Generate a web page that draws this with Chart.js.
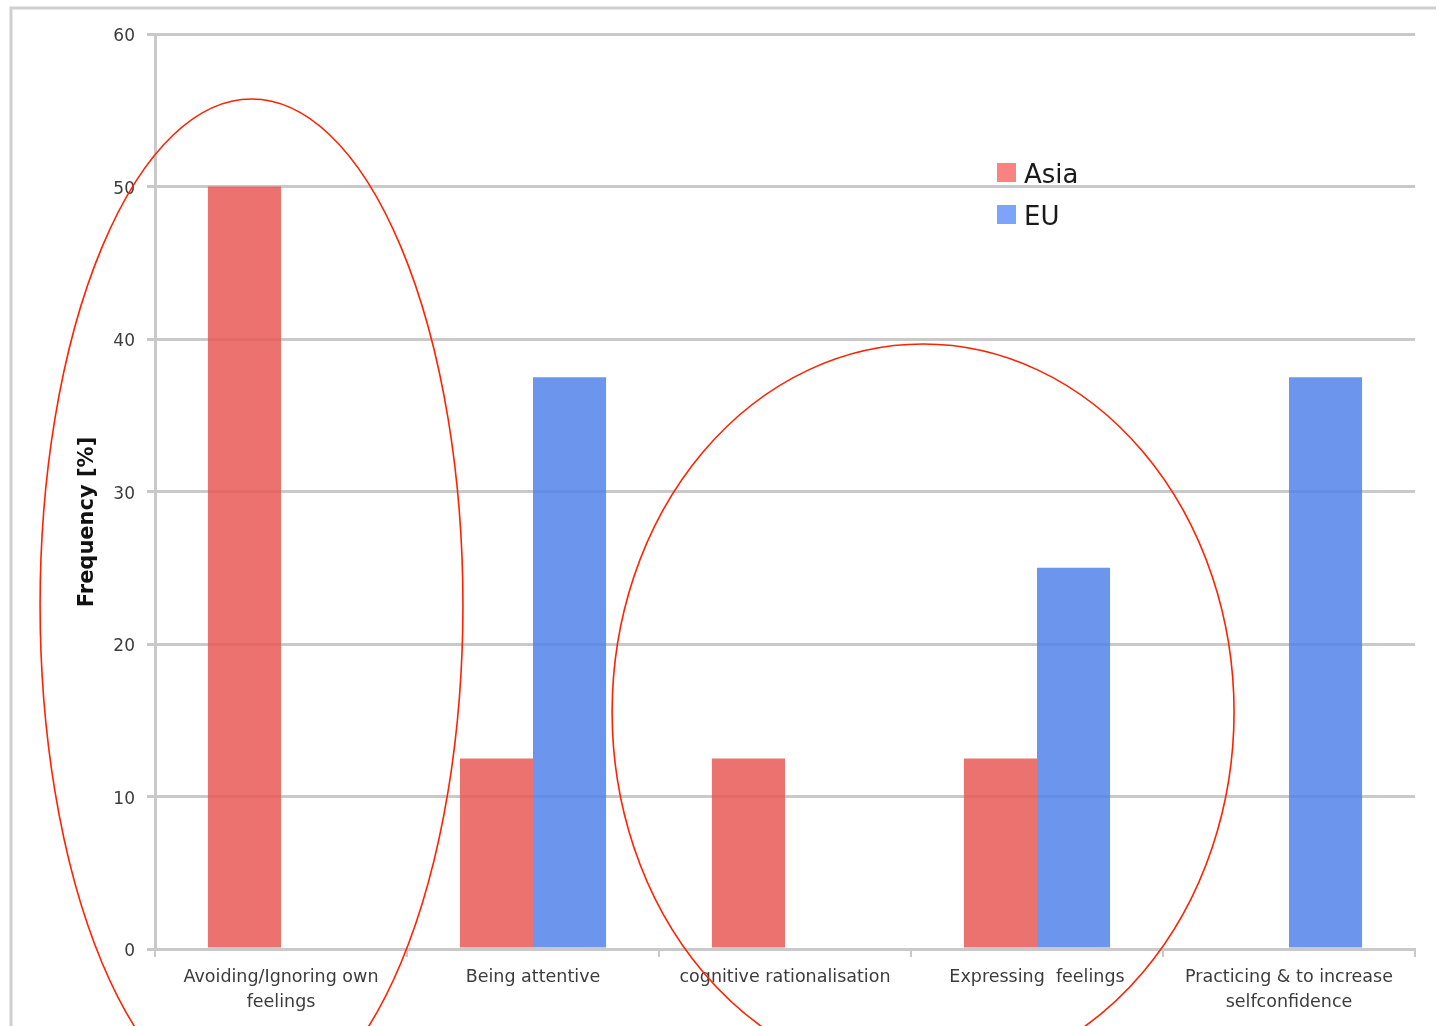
<!DOCTYPE html>
<html>
<head>
<meta charset="utf-8">
<script src="https://cdn.jsdelivr.net/npm/chart.js@4/dist/chart.umd.min.js"></script>
<style>
  html, body { margin: 0; padding: 0; background: #fff; }
  #wrap { width: 1438px; height: 1026px; position: relative; }
</style>
</head>
<body>
<div id="wrap"><canvas id="c" width="1438" height="1026"></canvas></div>
<script>
// Coping strategies by region, share of responses in percent
const categories = [
  ["Avoiding/Ignoring own", "feelings"],
  "Being attentive",
  "cognitive rationalisation",
  "Expressing  feelings",
  ["Practicing & to increase", "selfconfidence"]
];
const asiaValues = [50, 12.5, 12.5, 12.5, 0];
const euValues = [0, 37.5, 0, 25, 37.5];
const yTicks = [0, 10, 20, 30, 40, 50, 60];

// Highlight rings, in axis units: centre (category index, value), radii (categories, value)
const rings = [
  { cx: -0.117, cy: 22.56, rx: 0.839, ry: 33.18 },
  { cx: 2.548, cy: 15.54, rx: 1.234, ry: 24.13 }
];

const GRID = '#c9c9c9';
const TEXT = '#3c3c3c';
const FONT = '"DejaVu Sans", sans-serif';

const framePlugin = {
  id: 'frame',
  beforeDraw(chart) {
    const ctx = chart.ctx;
    ctx.save();
    ctx.strokeStyle = '#cfcfcf';
    ctx.lineWidth = 3;
    ctx.beginPath();
    ctx.moveTo(11, 1026);
    ctx.lineTo(11, 8);
    ctx.lineTo(1436, 8);
    ctx.stroke();
    ctx.restore();
  }
};

const overlayPlugin = {
  id: 'overlay',
  afterDraw(chart) {
    const ctx = chart.ctx;
    const xs = chart.scales.x, ys = chart.scales.y;

    // axis title
    ctx.save();
    ctx.translate(88, 522);
    ctx.rotate(-Math.PI / 2);
    ctx.font = 'bold 21px ' + FONT;
    ctx.fillStyle = '#111';
    ctx.textAlign = 'center';
    ctx.textBaseline = 'middle';
    ctx.fillText('Frequency [%]', 0, 0);
    ctx.restore();

    // legend
    const legendColors = ['rgb(250,130,128)', 'rgb(125,163,250)'];
    ctx.save();
    ctx.font = '26px ' + FONT;
    ctx.textBaseline = 'middle';
    chart.data.datasets.forEach((ds, i) => {
      const y = 173 + i * 42;
      ctx.fillStyle = legendColors[i];
      ctx.fillRect(997, y - 10, 19, 19);
      ctx.fillStyle = '#1a1a1a';
      ctx.fillText(ds.label, 1024, y + 3);
    });
    ctx.restore();

    // rings
    const catW = xs.getPixelForValue(1) - xs.getPixelForValue(0);
    const unit = ys.getPixelForValue(0) - ys.getPixelForValue(1);
    ctx.save();
    ctx.strokeStyle = '#ff2200';
    ctx.lineWidth = 1.6;
    rings.forEach(r => {
      ctx.beginPath();
      ctx.ellipse(xs.getPixelForValue(r.cx), ys.getPixelForValue(r.cy),
                  r.rx * catW, r.ry * unit, 0, 0, Math.PI * 2);
      ctx.stroke();
    });
    ctx.restore();
  }
};

new Chart(document.getElementById('c'), {
  type: 'bar',
  data: {
    labels: categories,
    datasets: [
      { label: 'Asia', data: asiaValues, backgroundColor: 'rgba(233,89,87,0.85)' },
      { label: 'EU', data: euValues, backgroundColor: 'rgba(82,130,234,0.85)' }
    ]
  },
  options: {
    responsive: false,
    animation: false,
    devicePixelRatio: 1,
    layout: { padding: { top: 34, right: 23, left: 0, bottom: 0 } },
    datasets: { bar: { categoryPercentage: 0.58, barPercentage: 1.0 } },
    plugins: { legend: { display: false }, tooltip: { enabled: false } },
    scales: {
      x: {
        grid: { display: true, drawOnChartArea: false, drawTicks: true, tickLength: 8,
                color: GRID, lineWidth: 2 },
        border: { display: true, color: GRID, width: 3 },
        ticks: { color: TEXT, font: { family: FONT, size: 17.5, lineHeight: 1.43 },
                 padding: 8, maxRotation: 0, autoSkip: false },
        afterFit(scale) { scale.height = 77; }
      },
      y: {
        min: 0, max: 60,
        afterBuildTicks(scale) { scale.ticks = yTicks.map(v => ({ value: v })); },
        grid: { color: GRID, lineWidth: 3, tickLength: 8 },
        border: { display: true, color: GRID, width: 3 },
        ticks: { color: TEXT, font: { family: FONT, size: 17 }, padding: 12, labelOffset: 3 },
        afterFit(scale) { scale.width = 155; }
      }
    }
  },
  plugins: [framePlugin, overlayPlugin]
});
</script>
</body>
</html>
